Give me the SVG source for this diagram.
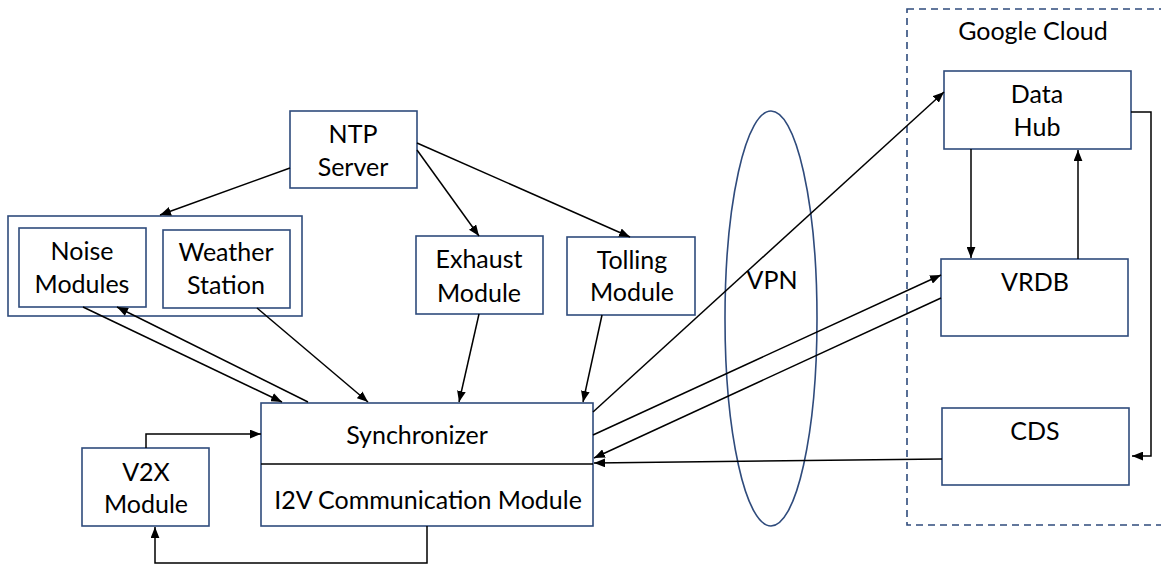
<svg xmlns="http://www.w3.org/2000/svg" width="1161" height="566" viewBox="0 0 1161 566">
  <style>
    .box { fill: #ffffff; stroke: #2f4b7c; stroke-width: 1.6; }
    .lbl { font-family: Lato, "Liberation Sans", sans-serif; font-size: 25px; fill: #000000; text-anchor: middle; }
    .conn { fill: none; stroke: #000000; stroke-width: 1.5; }
    .arr { marker-end: url(#head); }
  </style>
  <defs>
    <marker id="head" viewBox="0 0 10 8" refX="10" refY="4" markerWidth="11" markerHeight="9" markerUnits="userSpaceOnUse" orient="auto">
      <path d="M0,0 L10,4 L0,8 Z" fill="#000000"/>
    </marker>
  </defs>

  <rect width="1161" height="566" fill="#ffffff"/>

  <!-- cloud boundary -->
  <g id="google-cloud">
    <rect x="907" y="9" width="260" height="516" fill="none" stroke="#2f4b7c" stroke-width="1.6" stroke-dasharray="7,5"/>
    <text class="lbl" x="1033" y="40">Google Cloud</text>
  </g>

  <!-- VPN tunnel -->
  <g id="vpn">
    <ellipse cx="771" cy="318.5" rx="46" ry="207.5" fill="none" stroke="#2f4b7c" stroke-width="1.6"/>
    <text class="lbl" x="772" y="289">VPN</text>
  </g>

  <g id="ntp-server">
    <rect class="box" x="290" y="111" width="127" height="77"/>
    <text class="lbl" x="353" y="143">NTP</text>
    <text class="lbl" x="353" y="176">Server</text>
  </g>

  <g id="sensor-group">
    <rect class="box" x="8" y="216" width="294" height="100"/>
  </g>

  <g id="noise-modules">
    <rect class="box" x="19" y="228" width="127" height="79"/>
    <text class="lbl" x="82" y="260">Noise</text>
    <text class="lbl" x="82" y="293">Modules</text>
  </g>

  <g id="weather-station">
    <rect class="box" x="163" y="230" width="127" height="78"/>
    <text class="lbl" x="226" y="261">Weather</text>
    <text class="lbl" x="226" y="294">Station</text>
  </g>

  <g id="exhaust-module">
    <rect class="box" x="416" y="236" width="127" height="78"/>
    <text class="lbl" x="479" y="268">Exhaust</text>
    <text class="lbl" x="479" y="302">Module</text>
  </g>

  <g id="tolling-module">
    <rect class="box" x="567" y="237" width="128" height="78"/>
    <text class="lbl" x="632" y="269">Tolling</text>
    <text class="lbl" x="632" y="301">Module</text>
  </g>

  <g id="synchronizer">
    <rect class="box" x="261" y="403" width="332" height="123"/>
    <line x1="261" y1="464" x2="593" y2="464" stroke="#000000" stroke-width="1.5"/>
    <text class="lbl" x="417" y="444">Synchronizer</text>
    <text class="lbl" x="428" y="509">I2V Communication Module</text>
  </g>

  <g id="v2x-module">
    <rect class="box" x="82" y="448" width="127" height="78"/>
    <text class="lbl" x="146" y="481">V2X</text>
    <text class="lbl" x="146" y="513">Module</text>
  </g>

  <g id="data-hub">
    <rect class="box" x="944" y="71" width="187" height="78"/>
    <text class="lbl" x="1037" y="103">Data</text>
    <text class="lbl" x="1037" y="136">Hub</text>
  </g>

  <g id="vrdb">
    <rect class="box" x="941" y="259" width="187" height="77"/>
    <text class="lbl" x="1035" y="291">VRDB</text>
  </g>

  <g id="cds">
    <rect class="box" x="942" y="408" width="187" height="77"/>
    <text class="lbl" x="1035" y="440">CDS</text>
  </g>

  <g id="connectors">
    <!-- NTP distribution -->
    <line class="conn arr" x1="290" y1="168" x2="160" y2="215"/>
    <line class="conn arr" x1="417" y1="150" x2="479" y2="236"/>
    <line class="conn arr" x1="417" y1="143" x2="630" y2="237"/>
    <!-- sensors to synchronizer -->
    <line class="conn arr" x1="83" y1="307" x2="282" y2="402"/>
    <line class="conn arr" x1="308" y1="402" x2="117" y2="307"/>
    <line class="conn arr" x1="257" y1="308" x2="368" y2="402"/>
    <line class="conn arr" x1="479" y1="314" x2="459" y2="402"/>
    <line class="conn arr" x1="602" y1="315" x2="583" y2="402"/>
    <!-- V2X loop -->
    <polyline class="conn arr" points="146,448 146,434 261,434"/>
    <polyline class="conn arr" points="427,526 427,563 155,563 155,527"/>
    <!-- cloud links -->
    <line class="conn arr" x1="593" y1="412" x2="944" y2="92"/>
    <line class="conn arr" x1="593" y1="435" x2="941" y2="275"/>
    <line class="conn arr" x1="941" y1="298" x2="594" y2="458"/>
    <line class="conn arr" x1="942" y1="459" x2="594" y2="463"/>
    <!-- inside the cloud -->
    <line class="conn arr" x1="971" y1="149" x2="971" y2="258"/>
    <line class="conn arr" x1="1078" y1="259" x2="1078" y2="150"/>
    <polyline class="conn arr" points="1131,112 1151,112 1151,456 1132,456"/>
  </g>
</svg>
